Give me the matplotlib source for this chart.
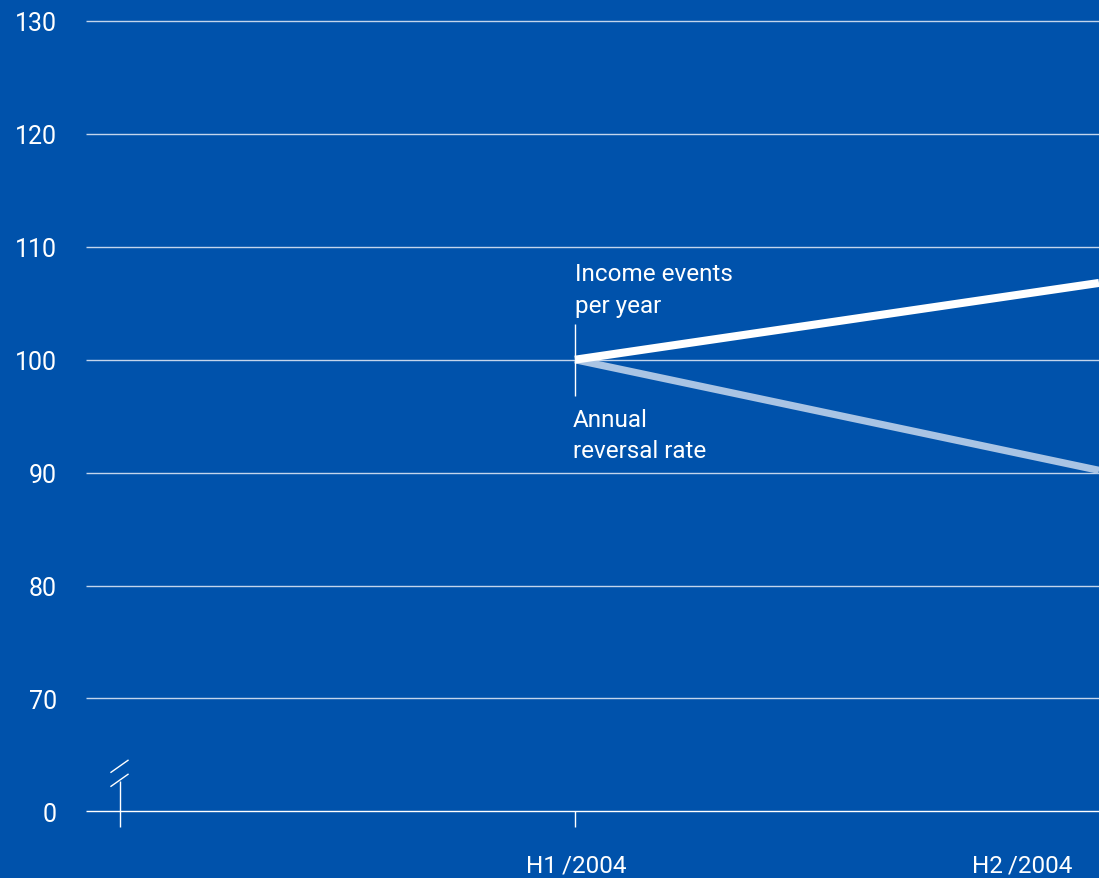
import matplotlib
matplotlib.use("Agg")
import matplotlib.pyplot as plt

# ── Data ─────────────────────────────────────────────
periods      = ["H1\u2009/2004", "H2\u2009/2004"]
income_idx   = [100, 106.8]
reversal_idx = [100, 90.2]
y_ticks      = [130, 120, 110, 100, 90, 80, 70, 60]   # 60 = broken-axis slot for 0
y_labels     = ["130", "120", "110", "100", "90", "80", "70", "0"]
income_label   = ["Income events", "per year"]
reversal_label = ["Annual", "reversal rate"]

BG       = "#0052AB"
WHITE    = "#FFFFFF"
LIGHT    = "#A9C4E4"
GRID     = "#C3D5EC"
FS       = 17.5

plt.rcParams.update({"font.family": ["Roboto", "DejaVu Sans"], "font.size": FS})

fig = plt.figure(figsize=(10.99, 8.79), dpi=100, facecolor=BG)
ax = fig.add_axes([0, 0, 1, 1])
ax.set_facecolor(BG)

# pixel-based scales (x: H1 at 575px, H2 at 1099px; y: 11.29px per unit)
PX_X = 524.0
PX_Y = 11.29
ax.set_xlim(-575 / PX_X, 1.0)
ax.set_ylim(130 - (879 - 22) / PX_Y, 130 + 22 / PX_Y)
for s in ax.spines.values():
    s.set_visible(False)
ax.set_xticks([]); ax.set_yticks([])

x_grid0 = (86 - 575) / PX_X
x_stub  = (120 - 575) / PX_X

# gridlines + y labels
for t, lab in zip(y_ticks, y_labels):
    col = WHITE if t == y_ticks[-1] else GRID
    ax.hlines(t, x_grid0, 1.0, color=col, linewidth=1.0, zorder=1)
    ax.text((57 - 575) / PX_X, t - 9.4 / PX_Y, lab, color=WHITE, ha="right", va="baseline",
            fontsize=18)

# series
xs = list(range(len(periods)))
ax.plot(xs, reversal_idx, color=LIGHT, linewidth=5.2, solid_capstyle="butt", zorder=3)
ax.plot(xs, income_idx, color=WHITE, linewidth=5.8, solid_capstyle="butt", zorder=4)

# start marker + labels
y0 = y_ticks[-1]
ax.vlines(0, 100 - 36 / PX_Y, 100 + 36 / PX_Y, color=WHITE, linewidth=1.0, zorder=5)
for i, line in enumerate(income_label):
    ax.text(0, 100 + (80 - 32 * i) / PX_Y, line, color=WHITE, ha="left", va="baseline", fontsize=FS)
for i, line in enumerate(reversal_label):
    ax.text(-2 / PX_X, 100 - (66 + 31.5 * i) / PX_Y, line, color=WHITE, ha="left", va="baseline",
            fontsize=FS)

# x ticks / labels
ax.vlines(0, y0 - 16 / PX_Y, y0, color=WHITE, linewidth=1.0)
ax.text(0 - 49 / PX_X, y0 - 60 / PX_Y, periods[0], color=WHITE, ha="left", va="baseline", fontsize=FS)
ax.text(1 - 27 / PX_X, y0 - 60 / PX_Y, periods[1], color=WHITE, ha="right", va="baseline", fontsize=FS)

# broken y-axis stub
ax.vlines(x_stub, y0 - 16 / PX_Y, y0 + 30 / PX_Y, color=WHITE, linewidth=1.0)
for off in (25, 39):
    ax.plot([(111 - 575) / PX_X, (128 - 575) / PX_X],
            [y0 + off / PX_Y, y0 + (off + 12) / PX_Y], color=WHITE, linewidth=1.0)

fig.savefig("out.png", dpi=100, facecolor=BG)
